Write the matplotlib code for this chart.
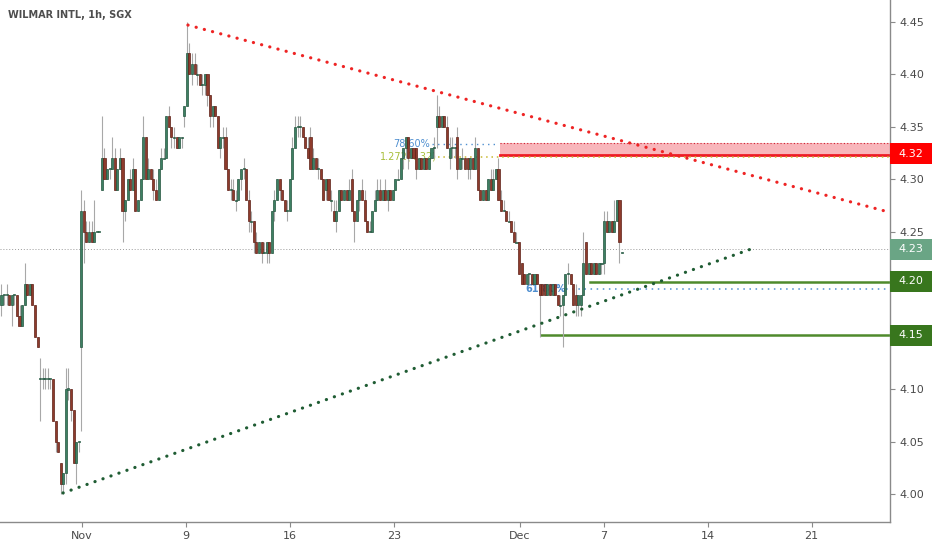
import matplotlib
matplotlib.use("Agg")
import matplotlib.pyplot as plt
from matplotlib.patches import Rectangle

# WILMAR INTL hourly bars (bar index = x position)
opens = [
    4.18, 4.19, 4.19, 4.19, 4.18, 4.19, 4.19, 4.17, 4.16, 4.18,
    4.20, 4.19, 4.20, 4.18, 4.15, 4.11, 4.11, 4.11, 4.11, 4.11,
    4.11, 4.07, 4.05, 4.03, 4.01, 4.02, 4.10, 4.10, 4.08, 4.03,
    4.05, 4.14, 4.27, 4.25, 4.24, 4.25, 4.24, 4.25, 4.25, 4.29,
    4.32, 4.30, 4.31, 4.31, 4.32, 4.29, 4.31, 4.32, 4.27, 4.28,
    4.30, 4.29, 4.31, 4.27, 4.28, 4.30, 4.34, 4.30, 4.31, 4.30,
    4.29, 4.28, 4.31, 4.32, 4.32, 4.36, 4.35, 4.34, 4.34, 4.33,
    4.34, 4.36, 4.37, 4.42, 4.40, 4.41, 4.40, 4.40, 4.39, 4.39,
    4.40, 4.38, 4.36, 4.37, 4.36, 4.33, 4.34, 4.34, 4.31, 4.29,
    4.29, 4.28, 4.28, 4.30, 4.31, 4.31, 4.28, 4.26, 4.26, 4.24,
    4.23, 4.24, 4.23, 4.23, 4.24, 4.23, 4.27, 4.28, 4.30, 4.29,
    4.28, 4.27, 4.27, 4.30, 4.33, 4.35, 4.35, 4.35, 4.34, 4.33,
    4.34, 4.31, 4.32, 4.31, 4.31, 4.30, 4.29, 4.30, 4.28, 4.27,
    4.26, 4.27, 4.29, 4.28, 4.29, 4.28, 4.30, 4.27, 4.26, 4.28,
    4.29, 4.28, 4.26, 4.25, 4.25, 4.27, 4.28, 4.29, 4.28, 4.29,
    4.28, 4.29, 4.28, 4.29, 4.30, 4.30, 4.32, 4.33, 4.34, 4.32,
    4.33, 4.33, 4.31, 4.32, 4.31, 4.32, 4.31, 4.32, 4.33, 4.35,
    4.36, 4.35, 4.36, 4.35, 4.32, 4.33, 4.33, 4.34, 4.31, 4.32,
    4.32, 4.32, 4.31, 4.32, 4.31, 4.33, 4.29, 4.28, 4.29, 4.28,
    4.30, 4.29, 4.30, 4.31, 4.28, 4.27, 4.27, 4.26, 4.26, 4.25,
    4.24, 4.24, 4.22, 4.21, 4.20, 4.21, 4.21, 4.20, 4.21, 4.20,
    4.20, 4.20, 4.19, 4.20, 4.19, 4.20, 4.19, 4.18, 4.18, 4.19,
    4.21, 4.21, 4.20, 4.19, 4.18, 4.18, 4.19, 4.24, 4.21, 4.22,
    4.21, 4.22, 4.21, 4.22, 4.22, 4.26, 4.25, 4.26, 4.25, 4.26,
    4.28, 4.23,
]
highs = [
    4.20, 4.19, 4.20, 4.19, 4.19, 4.19, 4.19, 4.18, 4.18, 4.22,
    4.20, 4.20, 4.20, 4.18, 4.15, 4.13, 4.12, 4.12, 4.12, 4.11,
    4.11, 4.07, 4.05, 4.03, 4.02, 4.12, 4.12, 4.10, 4.08, 4.05,
    4.05, 4.29, 4.28, 4.26, 4.26, 4.26, 4.28, 4.25, 4.25, 4.36,
    4.33, 4.31, 4.31, 4.34, 4.33, 4.31, 4.33, 4.32, 4.28, 4.30,
    4.31, 4.32, 4.31, 4.28, 4.30, 4.36, 4.34, 4.32, 4.31, 4.31,
    4.30, 4.31, 4.33, 4.33, 4.36, 4.37, 4.35, 4.35, 4.34, 4.34,
    4.34, 4.37, 4.45, 4.43, 4.42, 4.42, 4.41, 4.40, 4.40, 4.40,
    4.40, 4.38, 4.37, 4.37, 4.36, 4.34, 4.35, 4.35, 4.31, 4.30,
    4.30, 4.29, 4.30, 4.31, 4.32, 4.31, 4.29, 4.27, 4.26, 4.25,
    4.24, 4.24, 4.24, 4.24, 4.24, 4.27, 4.29, 4.30, 4.30, 4.29,
    4.28, 4.28, 4.30, 4.34, 4.36, 4.36, 4.36, 4.35, 4.34, 4.34,
    4.35, 4.33, 4.32, 4.32, 4.31, 4.30, 4.30, 4.30, 4.29, 4.28,
    4.28, 4.29, 4.29, 4.29, 4.29, 4.30, 4.31, 4.27, 4.28, 4.29,
    4.30, 4.29, 4.26, 4.26, 4.27, 4.29, 4.30, 4.30, 4.29, 4.30,
    4.29, 4.29, 4.29, 4.30, 4.31, 4.32, 4.33, 4.34, 4.34, 4.33,
    4.33, 4.33, 4.32, 4.32, 4.32, 4.32, 4.32, 4.33, 4.34, 4.38,
    4.37, 4.36, 4.36, 4.36, 4.34, 4.34, 4.33, 4.35, 4.32, 4.33,
    4.32, 4.32, 4.32, 4.32, 4.34, 4.33, 4.29, 4.29, 4.29, 4.30,
    4.31, 4.31, 4.31, 4.32, 4.29, 4.28, 4.27, 4.27, 4.26, 4.26,
    4.25, 4.24, 4.22, 4.21, 4.21, 4.21, 4.21, 4.21, 4.21, 4.20,
    4.20, 4.20, 4.20, 4.20, 4.20, 4.20, 4.19, 4.19, 4.19, 4.21,
    4.22, 4.21, 4.20, 4.20, 4.19, 4.19, 4.25, 4.24, 4.22, 4.22,
    4.22, 4.22, 4.22, 4.22, 4.27, 4.27, 4.26, 4.26, 4.28, 4.28,
    4.28, 4.23,
]
lows = [
    4.17, 4.18, 4.18, 4.18, 4.16, 4.18, 4.17, 4.16, 4.16, 4.18,
    4.19, 4.19, 4.18, 4.15, 4.14, 4.07, 4.10, 4.10, 4.10, 4.10,
    4.07, 4.04, 4.04, 4.00, 4.00, 4.01, 4.09, 4.07, 4.03, 4.01,
    4.04, 4.06, 4.22, 4.24, 4.24, 4.24, 4.24, 4.25, 4.25, 4.29,
    4.30, 4.30, 4.30, 4.31, 4.29, 4.29, 4.31, 4.24, 4.26, 4.28,
    4.29, 4.29, 4.27, 4.27, 4.28, 4.30, 4.30, 4.30, 4.30, 4.28,
    4.28, 4.28, 4.31, 4.32, 4.32, 4.35, 4.33, 4.33, 4.33, 4.33,
    4.33, 4.35, 4.37, 4.40, 4.39, 4.40, 4.39, 4.39, 4.38, 4.38,
    4.37, 4.35, 4.35, 4.36, 4.33, 4.32, 4.33, 4.31, 4.29, 4.28,
    4.28, 4.27, 4.28, 4.29, 4.30, 4.28, 4.25, 4.25, 4.23, 4.23,
    4.23, 4.22, 4.23, 4.22, 4.22, 4.23, 4.26, 4.28, 4.28, 4.28,
    4.27, 4.26, 4.27, 4.30, 4.33, 4.34, 4.34, 4.34, 4.33, 4.32,
    4.31, 4.31, 4.31, 4.30, 4.30, 4.28, 4.28, 4.28, 4.27, 4.26,
    4.25, 4.27, 4.28, 4.28, 4.28, 4.28, 4.27, 4.24, 4.26, 4.27,
    4.28, 4.26, 4.25, 4.25, 4.25, 4.27, 4.28, 4.28, 4.28, 4.28,
    4.27, 4.28, 4.28, 4.29, 4.30, 4.30, 4.31, 4.32, 4.31, 4.32,
    4.32, 4.30, 4.31, 4.31, 4.31, 4.31, 4.31, 4.32, 4.32, 4.33,
    4.35, 4.35, 4.35, 4.33, 4.31, 4.32, 4.32, 4.30, 4.31, 4.31,
    4.31, 4.30, 4.30, 4.31, 4.31, 4.29, 4.28, 4.28, 4.28, 4.28,
    4.29, 4.29, 4.30, 4.28, 4.27, 4.27, 4.26, 4.26, 4.25, 4.24,
    4.24, 4.21, 4.20, 4.20, 4.20, 4.20, 4.20, 4.20, 4.20, 4.15,
    4.19, 4.19, 4.19, 4.19, 4.19, 4.19, 4.18, 4.17, 4.14, 4.19,
    4.20, 4.20, 4.18, 4.17, 4.17, 4.17, 4.19, 4.21, 4.21, 4.21,
    4.21, 4.21, 4.21, 4.21, 4.21, 4.25, 4.25, 4.25, 4.25, 4.26,
    4.22, 4.23,
]
closes = [
    4.19, 4.19, 4.19, 4.18, 4.19, 4.19, 4.17, 4.16, 4.18, 4.20,
    4.19, 4.20, 4.18, 4.15, 4.14, 4.11, 4.11, 4.11, 4.11, 4.11,
    4.07, 4.05, 4.04, 4.01, 4.02, 4.10, 4.10, 4.08, 4.03, 4.05,
    4.05, 4.27, 4.25, 4.24, 4.25, 4.24, 4.25, 4.25, 4.25, 4.32,
    4.30, 4.31, 4.31, 4.32, 4.29, 4.31, 4.32, 4.27, 4.28, 4.30,
    4.29, 4.31, 4.27, 4.28, 4.30, 4.34, 4.30, 4.31, 4.30, 4.29,
    4.28, 4.31, 4.32, 4.32, 4.36, 4.35, 4.34, 4.34, 4.33, 4.34,
    4.34, 4.37, 4.42, 4.40, 4.41, 4.40, 4.40, 4.39, 4.39, 4.40,
    4.38, 4.36, 4.37, 4.36, 4.33, 4.34, 4.34, 4.31, 4.29, 4.29,
    4.28, 4.28, 4.30, 4.31, 4.31, 4.28, 4.26, 4.26, 4.24, 4.23,
    4.24, 4.23, 4.23, 4.24, 4.23, 4.27, 4.28, 4.30, 4.29, 4.28,
    4.27, 4.27, 4.30, 4.33, 4.35, 4.35, 4.35, 4.34, 4.33, 4.32,
    4.31, 4.32, 4.31, 4.31, 4.30, 4.28, 4.30, 4.28, 4.28, 4.26,
    4.27, 4.29, 4.28, 4.29, 4.28, 4.29, 4.27, 4.26, 4.28, 4.29,
    4.28, 4.26, 4.25, 4.25, 4.27, 4.28, 4.29, 4.28, 4.29, 4.28,
    4.29, 4.28, 4.29, 4.30, 4.30, 4.32, 4.33, 4.34, 4.32, 4.33,
    4.32, 4.31, 4.32, 4.31, 4.32, 4.31, 4.32, 4.33, 4.33, 4.36,
    4.35, 4.36, 4.35, 4.33, 4.33, 4.33, 4.33, 4.31, 4.32, 4.32,
    4.31, 4.31, 4.32, 4.31, 4.33, 4.29, 4.28, 4.29, 4.28, 4.30,
    4.29, 4.30, 4.31, 4.28, 4.27, 4.27, 4.26, 4.26, 4.25, 4.24,
    4.24, 4.21, 4.20, 4.20, 4.21, 4.21, 4.20, 4.21, 4.20, 4.19,
    4.19, 4.19, 4.20, 4.19, 4.20, 4.19, 4.18, 4.18, 4.19, 4.21,
    4.21, 4.20, 4.18, 4.18, 4.19, 4.19, 4.22, 4.21, 4.22, 4.21,
    4.22, 4.21, 4.22, 4.22, 4.26, 4.25, 4.26, 4.25, 4.26, 4.28,
    4.24, 4.23,
]

# time axis (bar index of each date label)
date_ticks = [31.1, 71.7, 112.0, 152.6, 201.4, 233.8, 274.2, 314.6]
date_labels = ["Nov", "9", "16", "23", "Dec", "7", "14", "21"]
price_ticks = [4.00, 4.05, 4.10, 4.15, 4.20, 4.25, 4.30, 4.35, 4.40, 4.45]
# these two tick labels sit under the level tags
hidden_ticks = [4.15, 4.20]

# drawings: (bar, price) anchors
resistance_trend = [(72.4, 4.447), (342.7, 4.270)]
support_trend = [(23.9, 4.001), (293.4, 4.2355)]
zone_start, zone_low, zone_high = 193.6, 4.3235, 4.335
fib_786, fib_1272, fib_618 = 4.334, 4.3215, 4.1955
level_420, level_415 = 4.202, 4.1515
level_420_start, level_415_start = 228.5, 209.4
last_price = 4.2333

# price tags on the right: (centre price, text, colour)
price_tags = [
    (4.3245, "4.32", "#ff0000"),
    (4.2333, "4.23", "#6aa585"),
    (4.2028, "4.20", "#38761d"),
    (4.1512, "4.15", "#38761d"),
]

fig = plt.figure(figsize=(9.32, 5.5), dpi=100)
ax = fig.add_axes([0, 28 / 550, 890 / 932, 522 / 550])
x_left, x_right = -0.58, 345.05
ax.set_xlim(x_left, x_right)
ax.set_ylim(3.9733, 4.4709)

# candles
up_face, up_edge = "#3d8063", "#24553f"
dn_face, dn_edge = "#8e3b2c", "#5e2017"
wick = "#a8a8a8"
for i, (o, h, l, c) in enumerate(zip(opens, highs, lows, closes)):
    ax.vlines(i, l, h, color=wick, lw=0.8, zorder=3)
    if c >= o:
        fc, ec = up_face, up_edge
    else:
        fc, ec = dn_face, dn_edge
    bottom = min(o, c)
    height = max(abs(c - o), 0.0012)
    ax.add_patch(Rectangle((i - 0.4, bottom - (0.0006 if c == o else 0)), 0.8, height,
                           facecolor=fc, edgecolor=ec, lw=0.5, zorder=4))

dots = (0, (0.05, 2.6))

# trend lines
ax.plot([p[0] for p in resistance_trend], [p[1] for p in resistance_trend],
        color="#ee2424", lw=2.3, ls=dots, dash_capstyle="round", zorder=6)
ax.plot([p[0] for p in support_trend], [p[1] for p in support_trend],
        color="#1f5c33", lw=2.3, ls=dots, dash_capstyle="round", zorder=6)

# resistance zone
ax.add_patch(Rectangle((zone_start, zone_low), x_right - zone_start, zone_high - zone_low,
                       facecolor="#f7a9b0", edgecolor="none", alpha=0.85, zorder=2))
ax.plot([zone_start, x_right], [zone_high, zone_high], color="#d02030", lw=0.8,
        ls=(0, (1, 2)), zorder=2.2)
ax.plot([zone_start, x_right], [zone_low, zone_low], color="#ee1c25", lw=2.0, zorder=2.3)

# fib levels
ax.plot([167.0, 192.4], [fib_786, fib_786], color="#4f8fd0", lw=1.0, ls=(0, (1, 3)), zorder=1.5)
ax.text(166.5, fib_786, "78.60%", color="#4f8fd0", fontsize=7, ha="right", va="center", zorder=1.4)
ax.plot([169.5, x_right], [fib_1272, fib_1272], color="#c8b830", lw=1.1, ls=(0, (1, 2.5)), zorder=2.4)
ax.text(169.0, fib_1272, "1.272(4.32)", color="#a8be3a", fontsize=7, ha="right", va="center", zorder=1.4)
ax.plot([216.9, x_right], [fib_618, fib_618], color="#4f8fd0", lw=1.1, ls=(0, (1, 3)), zorder=1.5)
ax.text(203.3, fib_618, "61.80%", color="#4f8fd0", fontsize=7, fontweight="bold",
        ha="left", va="center", zorder=1.4)

# support levels
ax.plot([level_420_start, x_right], [level_420, level_420], color="#4f8a2c", lw=1.8, zorder=2.5)
ax.plot([level_415_start, x_right], [level_415, level_415], color="#4f8a2c", lw=1.8, zorder=2.5)

# last price line
ax.axhline(last_price, color="#9a9a9a", lw=0.7, ls=(0, (1, 2)), zorder=1)

# axes styling
for side in ("left", "top"):
    ax.spines[side].set_visible(False)
for side in ("right", "bottom"):
    ax.spines[side].set_color("#8a8a8a")
    ax.spines[side].set_linewidth(1.0)
ax.yaxis.tick_right()
ax.set_yticks(price_ticks)
ax.set_yticklabels(["" if p in hidden_ticks else f"{p:.2f}" for p in price_ticks])
ax.set_xticks(date_ticks)
ax.set_xticklabels(date_labels)
ax.tick_params(axis="both", colors="#8a8a8a", labelcolor="#4a4a4a", labelsize=8,
               length=3.5, width=0.8, direction="out", pad=3)

# price tags
tag_w = 42 / 890
for price, label, color in price_tags:
    ax.add_patch(Rectangle((1.0, price - 0.0100), tag_w, 0.0200, transform=ax.get_yaxis_transform(),
                           facecolor=color, edgecolor="none", clip_on=False, zorder=10))
    ax.text(1.0 + tag_w / 2, price, label, transform=ax.get_yaxis_transform(), color="white",
            fontsize=8, ha="center", va="center", zorder=11, clip_on=False)

fig.text(8 / 932, 1 - 15 / 550, "WILMAR INTL, 1h, SGX", color="#4d4d4d", fontsize=7,
         fontweight="bold", ha="left", va="center")

fig.savefig("out.png", dpi=100)
